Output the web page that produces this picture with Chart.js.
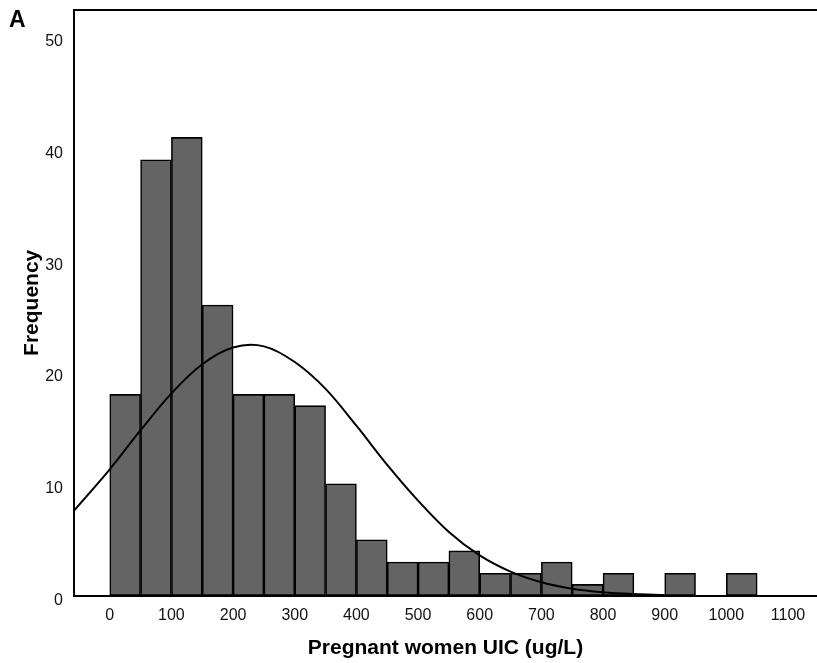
<!DOCTYPE html>
<html>
<head>
<meta charset="utf-8">
<script src="https://cdn.jsdelivr.net/npm/chart.js@4"></script>
<style>
  html, body { margin: 0; padding: 0; background: #fff; }
  #wrap { position: relative; width: 817px; height: 663px; }
  #chart { display: block; }
  #panel {
    position: absolute; left: 9px; top: 6px;
    font: bold 23px 'Liberation Sans', Arial, sans-serif; color: #000;
  }
</style>
</head>
<body>
<div id="wrap">
  <canvas id="chart" width="817" height="663"></canvas>
  <div id="panel">A</div>
</div>
<script>
// histogram bins (ug/L), width 50
const binCenters = [25, 75, 125, 175, 225, 275, 325, 375, 425, 475, 525, 575, 625, 675, 725, 775, 825, 875, 925, 975, 1025];
const binCounts  = [18, 39, 41, 26, 18, 18, 17, 10, 5, 3, 3, 4, 2, 2, 3, 1, 2, 0, 2, 0, 2];

// fitted normal curve
const curveX = [-58, 0, 50, 100, 150, 200, 250, 300, 350, 400, 450, 500, 550, 600, 650, 700, 750, 800, 850, 900];
const curveY = [7.6, 11.3, 14.8, 18.1, 20.7, 22.2, 22.3, 20.9, 18.5, 15.2, 11.7, 8.5, 5.7, 3.6, 2.15, 1.2, 0.62, 0.3, 0.14, 0.06];

const xTicks = [0, 100, 200, 300, 400, 500, 600, 700, 800, 900, 1000, 1100];
const yTicks = [0, 10, 20, 30, 40, 50];

const FONT = "'Liberation Sans', Arial, sans-serif";

const barData = binCenters
  .map((x, i) => ({ x: x, y: binCounts[i] }))
  .filter((p) => p.y > 0);

const curveData = curveX.map((x, i) => ({ x: x, y: curveY[i] }));

new Chart(document.getElementById('chart'), {
  data: {
    datasets: [
      {
        type: 'line',
        label: 'Normal',
        data: curveData,
        borderColor: '#000',
        borderWidth: 2,
        pointRadius: 0,
        tension: 0.35,
        fill: false,
        order: 0,
      },
      {
        type: 'bar',
        label: 'Frequency',
        data: barData,
        backgroundColor: '#646464',
        borderColor: '#000',
        borderWidth: 1.6,
        borderSkipped: false,
        barPercentage: 1,
        categoryPercentage: 1,
        order: 1,
      },
    ],
  },
  options: {
    responsive: false,
    animation: false,
    layout: { padding: { left: 20, right: 0, top: 10, bottom: 0 } },
    plugins: {
      legend: { display: false },
      tooltip: { enabled: false },
    },
    scales: {
      x: {
        type: 'linear',
        min: -58,
        max: 1147,
        offset: false,
        afterBuildTicks: (s) => { s.ticks = xTicks.map((v) => ({ value: v })); },
        grid: { display: false, drawTicks: false, offset: false },
        border: { color: '#000', width: 2 },
        ticks: {
          color: '#111', font: { family: FONT, size: 16 }, padding: 10, maxRotation: 0,
          callback: (v) => String(v),
        },
        title: {
          display: true,
          text: 'Pregnant women UIC (ug/L)',
          color: '#000',
          font: { family: FONT, size: 21, weight: 'bold' },
          padding: { top: 1, bottom: 2 },
        },
      },
      xTop: {
        type: 'linear',
        position: 'top',
        min: -58,
        max: 1147,
        offset: false,
        grid: { display: false, drawTicks: false },
        border: { color: '#000', width: 2 },
        ticks: { display: false },
      },
      y: {
        min: 0,
        max: 52.4,
        afterBuildTicks: (s) => { s.ticks = yTicks.map((v) => ({ value: v })); },
        afterFit: (s) => { s.paddingTop = 0; s.paddingBottom = 0; },
        grid: { display: false, drawTicks: false },
        border: { color: '#000', width: 2 },
        ticks: { color: '#111', font: { family: FONT, size: 16 }, padding: 11, labelOffset: 5 },
        title: {
          display: true,
          text: 'Frequency',
          color: '#000',
          font: { family: FONT, size: 21, weight: 'bold' },
          padding: { top: 0, bottom: -11 },
        },
      },
    },
  },
});
</script>
</body>
</html>
